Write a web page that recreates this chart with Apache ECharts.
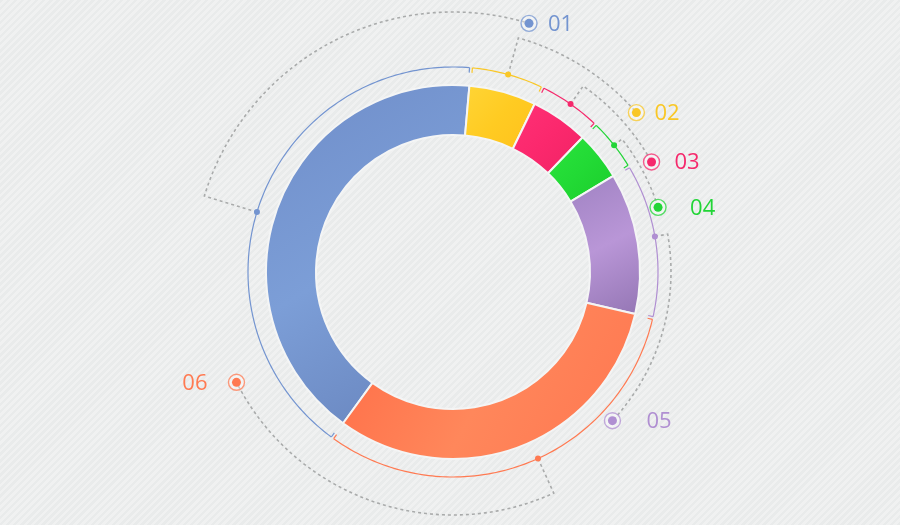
<!DOCTYPE html>
<html>
<head>
<meta charset="utf-8">
<script src="https://cdn.jsdelivr.net/npm/echarts@6/dist/echarts.min.js"></script>
<style>
  html, body { margin: 0; padding: 0; }
  body {
    width: 900px; height: 525px;
    background: repeating-linear-gradient(135deg, #e9ebeb 0px, #e9ebeb 2.5px, #f0f1f1 2.5px, #f0f1f1 5px);
  }
  #chart { width: 900px; height: 525px; }
</style>
</head>
<body>
<div id="chart"></div>
<script>
// 数据
const names = ['01', '02', '03', '04', '05', '06']
const values = [41.4, 5.8, 5.0, 4.2, 12.2, 31.4]

// 颜色
const colors = ['#7394d0', '#f9c726', '#f5296c', '#22d537', '#b08fd2', '#ff7a52']
const gradients = [
  ['#6f8dc9', '#7c9ed7', '#6682bb'],
  ['#ffd536', '#ffcb22', '#ffc11c'],
  ['#ff3176', '#fb286d', '#f02364'],
  ['#2be43e', '#22da35', '#1bcc2b'],
  ['#9f82c2', '#b996d7', '#9476b4'],
  ['#ff6c46', '#ff875b', '#ff7650']
]

// 布局
const cx = 453
const cy = 272
const startDeg = 216        // 第一块从顶部顺时针 216°
const ringR = 205           // 细弧半径
const dotDeg = [287, 15.6, 35, 51.8, 80, 155.5]
const leaderR = [260, 243, 227, 215, 218, 243]
const markerDeg = [17, 49, 61, 72.5, 133, 243]
const labelDx = [19, 18, 23, 32, 34, -29]

const total = values.reduce((a, b) => a + b, 0)

// 每块的起止角度（度，从顶部顺时针）
const spans = []
let acc = startDeg
values.forEach((v, i) => {
  const deg = v / total * 360
  spans.push([acc, acc + deg, i])
  acc += deg
})

const norm = a => ((a % 360) + 360) % 360

function arcPoints(api, r, a0, a1) {
  const pts = []
  const n = Math.max(2, Math.ceil(Math.abs(a1 - a0)))
  for (let i = 0; i <= n; i++) {
    pts.push(api.coord([r, norm(a0 + (a1 - a0) * i / n)]))
  }
  return pts
}

const renderItem = (params, api) => {
  const i = params.dataIndex
  const a0 = api.value(0)
  const a1 = api.value(1)
  const color = colors[i]
  const gap = 0.4
  const children = []

  // 细弧 + 两端小刻度
  children.push({
    type: 'polyline',
    shape: { points: arcPoints(api, ringR, a0 + gap, a1 - gap) },
    style: { stroke: color, lineWidth: 1.2, fill: null }
  })
  ;[a0 + gap, a1 - gap].forEach(a => {
    children.push({
      type: 'polyline',
      shape: { points: [api.coord([ringR, norm(a)]), api.coord([ringR - 5, norm(a)])] },
      style: { stroke: color, lineWidth: 1.2, fill: null }
    })
  })

  // 引导虚线
  const d = dotDeg[i]
  let mEnd = markerDeg[i]
  while (mEnd < d) mEnd += 360
  const lr = leaderR[i]
  const leaderPts = [api.coord([ringR, norm(d)])].concat(arcPoints(api, lr, d, mEnd))
  children.push({
    type: 'polyline',
    shape: { points: leaderPts },
    style: { stroke: '#a9abab', lineWidth: 1.6, lineDash: [3, 3], fill: null }
  })

  // 弧上的圆点
  const dot = api.coord([ringR, norm(d)])
  children.push({
    type: 'circle',
    shape: { cx: dot[0], cy: dot[1], r: 3 },
    style: { fill: color }
  })

  // 标记
  const m = api.coord([lr, norm(markerDeg[i])])
  children.push({
    type: 'circle',
    shape: { cx: m[0], cy: m[1], r: 8 },
    style: { fill: 'rgba(255,255,255,0.45)', stroke: color, lineWidth: 1.4, opacity: 0.75 }
  })
  children.push({
    type: 'circle',
    shape: { cx: m[0], cy: m[1], r: 4.5 },
    style: { fill: color }
  })
  children.push({
    type: 'text',
    style: {
      text: names[i],
      x: m[0] + labelDx[i],
      y: m[1] + 1,
      fill: color,
      fontSize: 22,
      fontFamily: 'Open Sans',
      align: labelDx[i] < 0 ? 'right' : 'left',
      verticalAlign: 'middle'
    }
  })

  return { type: 'group', children }
}

const chart = echarts.init(document.getElementById('chart'))

chart.setOption({
  animation: false,
  backgroundColor: 'transparent',
  polar: { center: [cx, cy], radius: 260 },
  angleAxis: { type: 'value', min: 0, max: 360, startAngle: 90, clockwise: true, show: false },
  radiusAxis: { type: 'value', min: 0, max: 260, show: false },
  series: [
    {
      type: 'pie',
      center: [cx, cy],
      radius: [137, 187],
      startAngle: 90 - startDeg,
      clockwise: true,
      label: { show: false },
      labelLine: { show: false },
      emphasis: { disabled: true },
      silent: true,
      itemStyle: { borderColor: '#f4f5f5', borderWidth: 2 },
      data: names.map((n, i) => ({
        name: n,
        value: values[i],
        itemStyle: {
          color: {
            type: 'linear', x: 0, y: 0, x2: 1, y2: 1,
            colorStops: [
              { offset: 0, color: gradients[i][0] },
              { offset: 0.5, color: gradients[i][1] },
              { offset: 1, color: gradients[i][2] }
            ]
          }
        }
      }))
    },
    {
      type: 'custom',
      coordinateSystem: 'polar',
      clip: false,
      silent: true,
      renderItem: renderItem,
      data: spans
    }
  ]
})

window.addEventListener('resize', () => chart.resize())
</script>
</body>
</html>
